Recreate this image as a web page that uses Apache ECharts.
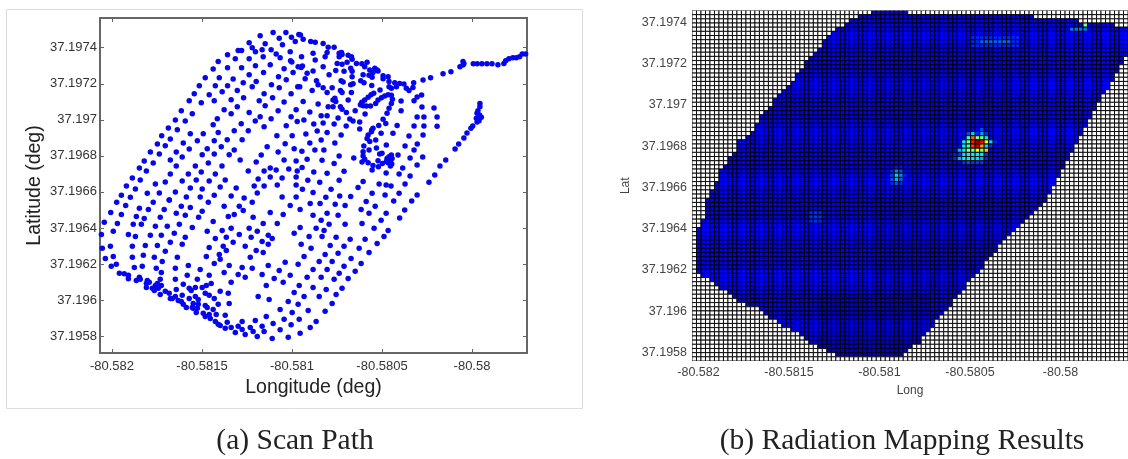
<!DOCTYPE html>
<html><head><meta charset="utf-8"><style>html,body{margin:0;padding:0;background:#fff}#c{width:1128px;height:459px}</style>
<script src="https://cdn.jsdelivr.net/npm/echarts@6/dist/echarts.min.js"></script></head><body><div id="c"></div>
<script>
// Scan path: millionths of a degree east of -80.582 and north of 37.1958
const northLon=[823,895,966,929,997,1018,1038,762,779,797,851,834,947,884,912,934,990,701,720,642,685,762,840,992,999,590,642,720,797,879,956,1034,562,762,842,925,1006,518,596,673,729,801,779,886,968,929,1032,485,574,642,612,696,540,457,845,892,995,429,496,568,662,731,818,956,851,385,446,623,696,762,823,923,1023,352,407,585,662,562,718,796,884,995,313,363,435,507,590,679,757,845,968,1029,276,324,474,568,640,723,916,1001,252,296,396,529,607,962,1012,213,263,357,429,501,568,651,679,862,829,923,179,229,324,390,535,463,611,712,801,956,1023,152,191,357,496,757,845,912,879,982,1029,113,157,324,424,574,629,390,468,540,879,945,812,1023,80,130,241,296,352,435,501,601,690,790,845,918,1023,52,102,196,263,318,413,490,568,662,734,807,945,1023];
const northLat=[1667,1685,1685,1652,1658,1634,1674,1628,1600,1578,1622,1589,1617,1589,1565,1545,1578,1584,1584,1561,1539,1539,1550,1528,1521,1523,1489,1489,1500,1506,1484,1495,1482,1450,1462,1439,1462,1434,1434,1426,1406,1412,1384,1395,1423,1378,1384,1389,1389,1389,1356,1362,1339,1345,1345,1323,1345,1306,1295,1306,1312,1323,1306,1299,1278,1251,1234,1256,1273,1240,1217,1251,1256,1199,1193,1206,1234,1173,1178,1193,1206,1217,1154,1145,1123,1123,1129,1140,1140,1162,1167,1190,1112,1093,1084,1084,1090,1090,1112,1112,1066,1056,1071,1040,1051,1067,1040,1021,1010,1021,1038,1006,1010,1006,1032,1051,1005,1021,971,960,977,993,960,944,944,977,966,977,971,932,916,944,910,916,916,921,932,927,916,877,866,899,899,899,866,860,866,860,882,877,871,882,833,816,844,855,799,821,816,827,821,833,833,838,838,781,770,792,794,755,771,771,781,777,766,794,771,771];
const southLon=[26,76,152,202,229,290,318,385,435,535,623,707,779,729,990,1045,1101,1156,1240,1295,1384,1412,1462,1523,-7,52,135,179,268,357,407,481,501,562,646,679,784,879,951,1117,1195,1256,1428,1495,-43,30,118,163,241,307,374,446,612,662,762,840,918,1045,1134,1162,1206,1178,1295,1389,1456,-59,7,91,130,213,274,346,407,529,574,635,707,807,868,890,1012,1095,1167,1245,1323,1406,1511,1534,-54,-9,113,185,252,324,390,540,618,673,740,773,834,868,1051,1106,1212,1289,1373,1473,-37,7,113,174,235,296,363,524,596,635,768,801,840,1067,1184,1256,1428,-4,24,124,168,246,279,352,424,490,568,601,651,723,779,868,962,1034,1151,1223,1328,1384,41,68,91,91,152,135,157,196,191,207,274,418,540,623,701,834,929,990,1117,1195,1289,1262,1351,268,252,241,224,191,257,274,352,474,396,429,551,662,740,901,1084,1162,1234,1312,296,318,235,268,324,352,390,357,440,463,501,524,601,646,857,951,1040,1117,1190,1278,335,368,385,396,413,429,463,479,518,540,568,1012,1067,1151,1245,812,451,479,451,474,468,446,518,529,590,562,651,873,979,1034,1223,507,518,540,546,579,629,934,1001,1090,1184,574,590,601,640,629,662,723,796,857,956,1040,1134,701,685,723,740,768,784,807,834,845,895,934,995,1101,890,979,1045];
const southLat=[742,725,709,703,742,703,755,720,714,742,720,720,742,697,725,703,736,736,731,725,703,747,720,681,686,675,664,653,659,681,670,659,692,636,664,675,659,686,675,670,681,670,681,642,631,625,620,620,609,609,620,603,586,598,598,625,625,603,598,642,620,586,620,625,598,564,581,564,553,559,559,570,548,581,542,548,564,581,559,542,570,553,553,548,537,537,553,586,487,498,498,503,503,520,509,492,498,520,498,548,525,509,509,487,503,498,487,514,431,442,437,448,437,470,437,442,453,475,437,475,464,442,453,459,464,387,398,381,387,376,414,376,392,370,403,426,392,381,376,392,409,398,414,414,431,403,348,346,337,318,326,309,315,309,292,298,353,337,337,353,342,342,364,337,370,370,387,348,359,315,292,281,265,270,265,281,315,315,287,265,292,298,326,320,326,326,315,320,248,237,253,231,209,220,226,259,253,270,270,281,248,237,281,298,281,270,259,265,209,198,192,176,159,209,220,203,237,226,209,242,220,220,231,220,181,176,154,154,131,159,170,159,176,148,181,203,192,176,181,126,109,120,98,120,115,148,131,142,137,81,65,59,76,43,48,81,87,109,93,93,81,54,20,37,9,48,26,-2,54,26,70,35,63,48,-13,-7,15];
const eastLon=[1047,1062,1104,1129,1173,1201,1234,1195,1184,1117,1129,1053,1058,1051,1117,1084,1073,1043,1262,1275,1278,1262,1312,1330,1334,1306,1278,1251,1173,1243,1289,1206,1326,1334,1334,1358,1388,1417,1404,1395,1432,1428,1445,1460,1473,1450,1478,1273,1284,1136,1145,1173,1223,1195,1112,1269,1278,1326,1339,1330,1382,1400,1443,1489,1506,1506,1534,1539,1539,1552,1571,1580,1598,1622,1635,1650,1672,1676,1728,1770,1839,1883,1933,1950,1955,1950,2007,2029,2055,2083,2111,2144,2177,2187,2205,2227,2246,2264,2279,2298,2309,1238,1228,1243,1312,1062,1145,1201,1228,1269,1278,1302,1351,1406,1099,1162,1195,1256,1066,1121,1173,1234,1321,1339,1376,1301,1376,1077,1140,1195,1273,1162,1238,1099,1177,1127,1055,1262,1084,1167,1234,1056,1343,1389,1121,1195,1289,1088,1154,1262,1058,1117,1217,1188,1265,1326,1367,1395,1454,1439,1423,1404,1388,1380,1395,1413,1436,1465,1478,1497,1515,1534,1552,1558,1552,1539,1528,1506,1521,1482,1450,1441,1423,1417,1432,1465,1443,1399,1428,1469,1395,1395,1404,1423,1450,1480,1502,1478,1487,1500,1524,1495,1561,1584,1606,1606,1678,1695,1720,1722,1789,1695,1733,1806,1806,1733,1678,1728,1650,1696,1628,1678,1589,1656,1726,1615,1695,1595,1656,1523,1523,1445,1484,1550,1628,1445,1517,1595,1695,1761,1793,1822,1854,1906,1926,1955,1972,1994,2004,2028,2039,2052,2042,2028,2033,2044,2044,2024,1528,1539,1552,1556,1547,1534,1554,1547,1524,1565,1665,1626,1598];
const eastLat=[1671,1647,1635,1630,1624,1602,1602,1574,1550,1569,1532,1550,1499,1491,1471,1458,1428,1384,1569,1574,1563,1550,1558,1550,1536,1519,1508,1513,1495,1473,1469,1450,1486,1469,1439,1513,1511,1519,1495,1450,1476,1447,1436,1486,1476,1463,1471,1417,1410,1417,1395,1378,1378,1351,1362,1362,1352,1395,1400,1351,1417,1406,1391,1365,1445,1428,1439,1412,1384,1375,1406,1384,1402,1399,1375,1362,1380,1406,1421,1434,1456,1467,1495,1523,1513,1504,1511,1511,1511,1511,1511,1506,1513,1528,1539,1545,1545,1550,1565,1565,1558,1319,1310,1301,1310,1301,1288,1273,1273,1273,1258,1240,1251,1232,1243,1223,1223,1210,1199,1177,1182,1177,1204,1193,1188,1166,1149,1121,1138,1130,1116,1088,1071,1071,1032,1032,1025,999,981,975,958,936,988,966,910,903,914,864,853,864,814,797,814,770,777,775,825,858,1347,1339,1325,1310,1297,1284,1278,1277,1277,1291,1310,1323,1332,1339,1336,1314,1291,1264,1236,1203,1180,1169,1153,1134,1116,1097,1079,1088,1143,1055,1032,1043,1023,999,981,962,947,940,958,973,1010,1014,1060,1125,1125,1169,1304,1251,1306,1326,1338,1271,1265,1215,1215,1215,1164,1166,1166,1116,1110,1066,1055,1032,1005,988,993,932,949,899,888,905,838,921,844,833,844,792,783,792,783,853,894,944,977,1038,1066,1099,1127,1153,1166,1188,1195,1214,1227,1236,1251,1273,1291,1208,986,995,1005,986,968,962,955,944,969,749,749,699,655];
const scanLonOrigin=-80.582, scanLatOrigin=37.1958;

const lonTicks=[-80.582,-80.5815,-80.581,-80.5805,-80.58];
const latTicks=[37.1958,37.196,37.1962,37.1964,37.1966,37.1968,37.197,37.1972,37.1974];

// Radiation map: cell columns covered on each grid row (top row first), -1 = not scanned
const mapColumns=97, mapRows=84;
const rowFirstCol=[40,37,35,34,32,31,30,29,29,28,27,26,25,25,24,23,23,22,21,20,19,18,18,17,16,15,15,14,14,13,12,10,10,10,9,8,8,7,6,6,6,5,5,4,4,3,3,3,3,3,2,2,1,1,1,1,1,1,1,1,1,1,1,2,4,5,6,8,9,10,12,15,16,17,19,20,22,24,25,26,28,30,32,-1];
const rowLastCol=[47,75,85,93,96,96,96,96,96,96,96,95,95,94,94,93,93,92,92,91,90,90,89,89,88,88,87,87,86,86,85,85,84,84,83,83,82,82,81,81,80,80,79,79,78,78,77,76,75,74,73,72,71,70,69,68,67,67,66,65,64,64,63,62,61,60,60,59,58,57,57,56,55,54,53,53,52,51,50,50,48,47,46,-1];
const rowLevel=[.11,.11,.115,.12,.11,.12,.125,.12,.115,.11,.115,.12,.115,.11,.12,.115,.12,.11,.115,.125,.12,.11,.115,.12,.11,.115,.12,.115,.11,.105,.11,.115,.12,.115,.11,.115,.12,.11,.115,.11,.12,.125,.115,.11,.12,.115,.11,.115,.12,.11,.115,.12,.125,.115,.11,.115,.12,.115,.11,.12,.115,.125,.13,.12,.115,.12,.11,.115,.11,.105,.11,.115,.11,.105,.11,.105,.1,.105,.1,.105,.1,.1,.095,.11];
// [firstRow,lastRow,firstCol,lastCol,level]: broad darker and lighter patches
const mapPatches=[[68,82,28,52,.075],[45,67,40,70,.09],[8,30,40,70,.1],[5,30,75,96,.12],[6,8,62,72,.16],[7,7,64,70,.22],[4,4,84,87,.24]];
// [col,row,level]: cells that stand out from the background
const hotCells=[[64,28,.2],[61,29,.2],[62,29,.33],[63,29,.16],[64,29,.28],[65,29,.17],[61,30,.43],[62,30,.78],[63,30,.5],[64,30,.5],[65,30,.35],[60,31,.36],[61,31,.5],[62,31,.85],[63,31,.97],[64,31,.87],[65,31,.63],[66,31,.34],[67,31,.15],[60,32,.36],[61,32,.43],[62,32,.82],[63,32,.93],[64,32,.72],[65,32,.33],[66,32,.17],[59,33,.3],[60,33,.36],[61,33,.53],[62,33,.48],[63,33,.63],[64,33,.5],[65,33,.68],[58,34,.15],[59,34,.17],[60,34,.34],[61,34,.36],[62,34,.36],[63,34,.36],[64,34,.36],[65,34,.17],[58,35,.16],[59,35,.3],[60,35,.36],[61,35,.36],[62,35,.35],[63,35,.34],[64,35,.3],[65,35,.16],[60,36,.17],[61,36,.2],[62,36,.18],[63,36,.18],[64,36,.18],[45,37,.14],[46,37,.14],[44,38,.16],[45,38,.25],[46,38,.2],[44,39,.18],[45,39,.33],[46,39,.26],[47,39,.15],[44,40,.2],[45,40,.3],[46,40,.22],[44,41,.16],[45,41,.2],[46,41,.16],[26,48,.16],[27,48,.17],[28,48,.16],[26,49,.17],[27,49,.18],[28,49,.17],[26,50,.16],[27,50,.17],[28,50,.16],[87,3,.5]];

const leftX=[-80.58206667,-80.57969444], leftY=[37.195706,37.197565];
const rightX=[-80.58203591,-80.57962707], rightY=[37.19575879,37.19745818];

function zip(lon,lat){return lon.map((v,i)=>[+(scanLonOrigin+v/1e6).toFixed(6),+(scanLatOrigin+lat[i]/1e6).toFixed(6)]);}
const scanPoints=zip(northLon,northLat).concat(zip(southLon,southLat),zip(eastLon,eastLat));

const levels=[];
for(let r=0;r<mapRows;r++){const a=[];for(let c=0;c<mapColumns;c++)a.push(c>=rowFirstCol[r]&&c<=rowLastCol[r]&&rowFirstCol[r]>=0?rowLevel[r]:null);levels.push(a);}
mapPatches.forEach(p=>{for(let r=p[0];r<=p[1];r++)for(let c=p[2];c<=p[3];c++)if(levels[r][c]!==null)levels[r][c]=p[4];});
hotCells.forEach(h=>{if(levels[h[1]][h[0]]!==null)levels[h[1]][h[0]]=h[2];});
const cellLon=(rightX[1]-rightX[0])/mapColumns, cellLat=(rightY[1]-rightY[0])/mapRows;
const cells=[];
levels.forEach((a,r)=>a.forEach((v,c)=>cells.push([rightX[0]+c*cellLon,rightY[1]-r*cellLat,v===null?-1:v])));

const jetStops=[[0,[0,0,143]],[.125,[0,0,255]],[.375,[0,255,255]],[.625,[255,255,0]],[.875,[255,0,0]],[1,[128,0,0]]];
function jet(v){if(v<0)return '#fff';for(let i=1;i<jetStops.length;i++){if(v<=jetStops[i][0]){const a=jetStops[i-1],b=jetStops[i],t=(v-a[0])/(b[0]-a[0]);return 'rgb('+a[1].map((x,k)=>Math.round(x+(b[1][k]-x)*t)).join(',')+')';}}return '#800000';}

const sans='"Liberation Sans",Arial,sans-serif', serif='"Liberation Serif",serif';
const frameColor='#666';
function tickAxis(extra){return Object.assign({type:'value',scale:true,splitLine:{show:false}},extra);}
const lineL={show:true,lineStyle:{color:frameColor,width:2}};
const chart=echarts.init(document.getElementById('c'),null,{renderer:'canvas'});
chart.setOption({
 animation:false,backgroundColor:'#fff',
 grid:[{left:100,top:18,width:427,height:335},{left:692,top:10.5,width:436,height:350.5}],
 xAxis:[
  tickAxis({gridIndex:0,position:'bottom',min:leftX[0],max:leftX[1],name:'Longitude (deg)',nameLocation:'middle',nameGap:24,nameTextStyle:{fontFamily:sans,fontSize:19.5,color:'#222'},axisLine:lineL,axisTick:{show:true,inside:true,length:4,lineStyle:{color:frameColor},customValues:lonTicks},axisLabel:{margin:7,fontFamily:sans,fontSize:13,color:'#333',customValues:lonTicks,formatter:v=>String(v)}}),
  tickAxis({gridIndex:0,position:'top',min:leftX[0],max:leftX[1],axisLine:lineL,axisTick:{show:true,inside:true,length:4,lineStyle:{color:frameColor},customValues:lonTicks},axisLabel:{show:false}}),
  tickAxis({gridIndex:1,position:'bottom',min:rightX[0],max:rightX[1],name:'Long',nameLocation:'middle',nameGap:24,nameTextStyle:{fontFamily:sans,fontSize:12,color:'#444'},axisLine:{show:false},axisTick:{show:true,inside:true,length:3,lineStyle:{color:'#000'},customValues:lonTicks},axisLabel:{margin:5,fontFamily:sans,fontSize:12.5,color:'#444',customValues:lonTicks,formatter:v=>String(v)}})
 ],
 yAxis:[
  tickAxis({gridIndex:0,position:'left',min:leftY[0],max:leftY[1],name:'Latitude (deg)',nameLocation:'middle',nameGap:55,nameTextStyle:{fontFamily:sans,fontSize:19.5,color:'#222'},axisLine:lineL,axisTick:{show:true,inside:true,length:4,lineStyle:{color:frameColor},customValues:latTicks},axisLabel:{margin:3,fontFamily:sans,fontSize:13,color:'#333',customValues:latTicks,formatter:v=>String(v)}}),
  tickAxis({gridIndex:0,position:'right',min:leftY[0],max:leftY[1],axisLine:lineL,axisTick:{show:true,inside:true,length:4,lineStyle:{color:frameColor},customValues:latTicks},axisLabel:{show:false}}),
  tickAxis({gridIndex:1,position:'left',min:rightY[0],max:rightY[1],name:'Lat',nameLocation:'middle',nameGap:60,nameTextStyle:{fontFamily:sans,fontSize:12,color:'#444'},axisLine:{show:false},axisTick:{show:true,inside:true,length:4,lineStyle:{color:'#000',width:1.5},customValues:latTicks},axisLabel:{margin:5,fontFamily:sans,fontSize:12.5,color:'#444',customValues:latTicks,formatter:v=>String(v)}})
 ],
 graphic:[
  {type:'rect',z:-1,shape:{x:6.5,y:9.5,width:576,height:399},style:{fill:'#fff',stroke:'#ddd',lineWidth:1}},
  {type:'text',x:295,y:441,style:{text:'(a) Scan Path',fontFamily:serif,fontSize:29.5,fill:'#222',textAlign:'center',textVerticalAlign:'middle'}},
  {type:'text',x:902,y:441,style:{text:'(b) Radiation Mapping Results',fontFamily:serif,fontSize:29.5,fill:'#222',textAlign:'center',textVerticalAlign:'middle'}}
 ],
 series:[
  {type:'scatter',xAxisIndex:0,yAxisIndex:0,data:scanPoints,symbol:'circle',symbolSize:5.5,itemStyle:{color:'#0505f0',opacity:1},silent:true,large:false,clip:true},
  {type:'custom',xAxisIndex:2,yAxisIndex:2,data:cells,progressive:0,silent:true,clip:true,encode:{x:0,y:1},
   renderItem:function(params,api){
    const lon=api.value(0),lat=api.value(1),v=api.value(2);
    const p=api.coord([lon,lat]),q=api.coord([lon+cellLon,lat-cellLat]);
    return {type:'rect',shape:{x:p[0],y:p[1],width:q[0]-p[0],height:q[1]-p[1]},style:{fill:jet(v),stroke:'#000',lineWidth:0.9}};
   }}
 ]
});
</script></body></html>
